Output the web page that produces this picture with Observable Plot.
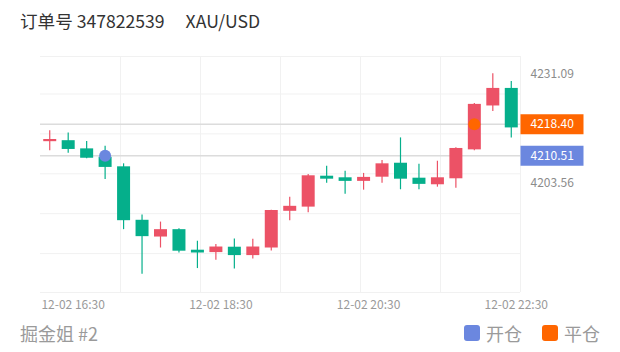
<!DOCTYPE html>
<html>
<head>
<meta charset="utf-8">
<script src="https://cdn.jsdelivr.net/npm/d3@7"></script>
<script src="https://cdn.jsdelivr.net/npm/@observablehq/plot@0.6"></script>
<style>
  body { margin: 0; background: #fff; font-family: "Noto Sans CJK SC", "Noto Sans", sans-serif; }
  #head { height: 40px; line-height: 42px; padding-left: 20px; font-size: 17.6px; color: #333; white-space: nowrap; }
  #head .pair { margin-left: 21px; }
  #foot { position: relative; height: 36px; font-size: 18px; color: #9a9a9a; }
  #foot .who { position: absolute; left: 20px; top: 4px; }
  #foot .legend { position: absolute; right: 20px; top: 4px; display: flex; align-items: center; }
  #foot .sw { width: 16px; height: 16px; border-radius: 3px; margin-right: 6px; display: inline-block; }
  #foot .item { display: flex; align-items: center; margin-left: 20px; }
</style>
</head>
<body>
<div id="head">订单号 347822539<span class="pair">XAU/USD</span></div>
<div id="chart"></div>
<div id="foot">
  <span class="who">掘金姐 #2</span>
  <span class="legend">
    <span class="item"><span class="sw" style="background:#6B87DF"></span>开仓</span>
    <span class="item"><span class="sw" style="background:#FF6600"></span>平仓</span>
  </span>
</div>
<script>
// 15-minute XAU/USD candles, 12-02
const times = [
  "12-02 16:15", "12-02 16:30", "12-02 16:45", "12-02 17:00", "12-02 17:15", "12-02 17:30",
  "12-02 17:45", "12-02 18:00", "12-02 18:15", "12-02 18:30", "12-02 18:45", "12-02 19:00",
  "12-02 19:15", "12-02 19:30", "12-02 19:45", "12-02 20:00", "12-02 20:15", "12-02 20:30",
  "12-02 20:45", "12-02 21:00", "12-02 21:15", "12-02 21:30", "12-02 21:45", "12-02 22:00",
  "12-02 22:15", "12-02 22:30"
];
const open = [
  4214.05, 4214.3, 4212.25, 4210.15, 4207.75, 4194.35, 4190.15, 4192.0, 4186.85, 4186.25,
  4187.6, 4185.5, 4187.4, 4196.6, 4197.65, 4205.4, 4205.0, 4204.1, 4205.15, 4208.65,
  4204.9, 4203.25, 4204.75, 4212.0, 4223.0, 4227.4
];
const high = [
  4216.8, 4216.25, 4214.1, 4212.9, 4208.5, 4195.65, 4193.9, 4192.25, 4189.1, 4188.25,
  4189.65, 4189.6, 4196.85, 4200.15, 4205.85, 4207.9, 4206.65, 4206.1, 4209.35, 4215.0,
  4208.4, 4209.15, 4212.5, 4223.65, 4231.09, 4229.15
];
const low = [
  4211.8, 4211.15, 4209.75, 4204.6, 4192.0, 4180.8, 4187.4, 4186.15, 4182.25, 4184.35,
  4182.15, 4184.65, 4186.65, 4194.25, 4196.25, 4203.65, 4200.85, 4201.9, 4203.65, 4202.0,
  4202.0, 4202.65, 4202.35, 4211.75, 4221.6, 4215.0
];
const close = [
  4214.6, 4212.1, 4209.9, 4207.6, 4194.25, 4190.25, 4192.0, 4186.6, 4186.15, 4187.65,
  4185.5, 4187.65, 4196.8, 4197.85, 4205.5, 4204.65, 4204.1, 4205.1, 4208.5, 4204.65,
  4203.35, 4205.0, 4212.35, 4223.4, 4227.4, 4217.5
];

// trade entry / exit
const tradeTimes = ["12-02 17:00", "12-02 22:00"];
const tradePrices = [4210.51, 4218.40];
const tradeKinds = ["开仓", "平仓"];

// labelled time ticks and price ticks
const timeTicks = ["12-02 16:30", "12-02 18:30", "12-02 20:30", "12-02 22:30"];
const priceTicks = [4231.09, 4203.56];
const gridPrices = [4186, 4196, 4206, 4216, 4226];

const UP = "#EC5266", DOWN = "#05AF8B";
const kindColor = {"开仓": "#6B87DF", "平仓": "#FF6600"};

const parse = d3.utcParse("%m-%d %H:%M");
const fmt = d3.utcFormat("%m-%d %H:%M");

const candles = times.map((t, i) => ({
  t: parse(t), open: open[i], high: high[i], low: low[i], close: close[i]
}));
const trades = tradeTimes.map((t, i) => ({t: parse(t), price: tradePrices[i], kind: tradeKinds[i]}));

// pad the time domain by half a candle on each side
const halfBar = 7.5 * 60e3;
const x0 = new Date(+candles[0].t - halfBar);
const x1 = new Date(+candles[candles.length - 1].t + halfBar);
const yDomain = [4176.25, 4235.4];
const gridTimes = d3.range(1, 7).map(k => new Date(+x0 + k * (x1 - x0) / 6));

const colorOf = d => d.close >= d.open ? UP : DOWN;

// price tag box anchored to the right edge of the frame
const tagBox = { draw(context) { context.rect(0, -10, 63, 20); } };

const chart = Plot.plot({
  width: 620,
  height: 276,
  marginTop: 16,
  marginBottom: 24,
  marginLeft: 40,
  marginRight: 100,
  style: {
    fontFamily: "'Noto Sans CJK SC', 'Noto Sans', sans-serif",
    fontSize: "12px",
    color: "#8c8c8c",
    background: "white",
    overflow: "visible"
  },
  x: {type: "utc", domain: [x0, x1]},
  y: {domain: yDomain},
  marks: [
    Plot.ruleY(gridPrices, {stroke: "#f1f1f1", strokeWidth: 1}),
    Plot.ruleY(yDomain, {stroke: "#f1f1f1", strokeWidth: 1}),
    Plot.ruleX(gridTimes, {stroke: "#f1f1f1", strokeWidth: 1}),
    Plot.ruleY(trades, {y: "price", stroke: "#dcdcdc", strokeWidth: 1.5}),
    Plot.axisX(timeTicks.map(parse), {
      label: null, tickFormat: fmt, tickSize: 0, tickPadding: 8, dx: 5, fill: "#9a9a9a", fontSize: 12
    }),
    Plot.axisY(priceTicks, {
      label: null, anchor: "right", tickSize: 0, tickPadding: 10, tickFormat: d => d.toFixed(2),
      fill: "#8c8c8c", fontSize: 12
    }),
    // wicks
    Plot.ruleX(candles, {x: "t", y1: "low", y2: "high", stroke: colorOf, strokeWidth: 1.2}),
    // bodies
    Plot.ruleX(candles, {x: "t", y1: "open", y2: "close", stroke: colorOf, strokeWidth: 13}),
    // entry / exit markers
    Plot.dot(trades, {x: "t", y: "price", r: 6, fill: d => kindColor[d.kind], stroke: null}),
    // right-side price tags
    Plot.dot(trades, {y: "price", frameAnchor: "right", symbol: tagBox, fill: d => kindColor[d.kind], stroke: null}),
    Plot.text(trades, {
      y: "price", frameAnchor: "right", dx: 10, textAnchor: "start",
      text: d => d.price.toFixed(2), fill: "white", fontSize: 12
    })
  ]
});

document.getElementById("chart").append(chart);
</script>
</body>
</html>
